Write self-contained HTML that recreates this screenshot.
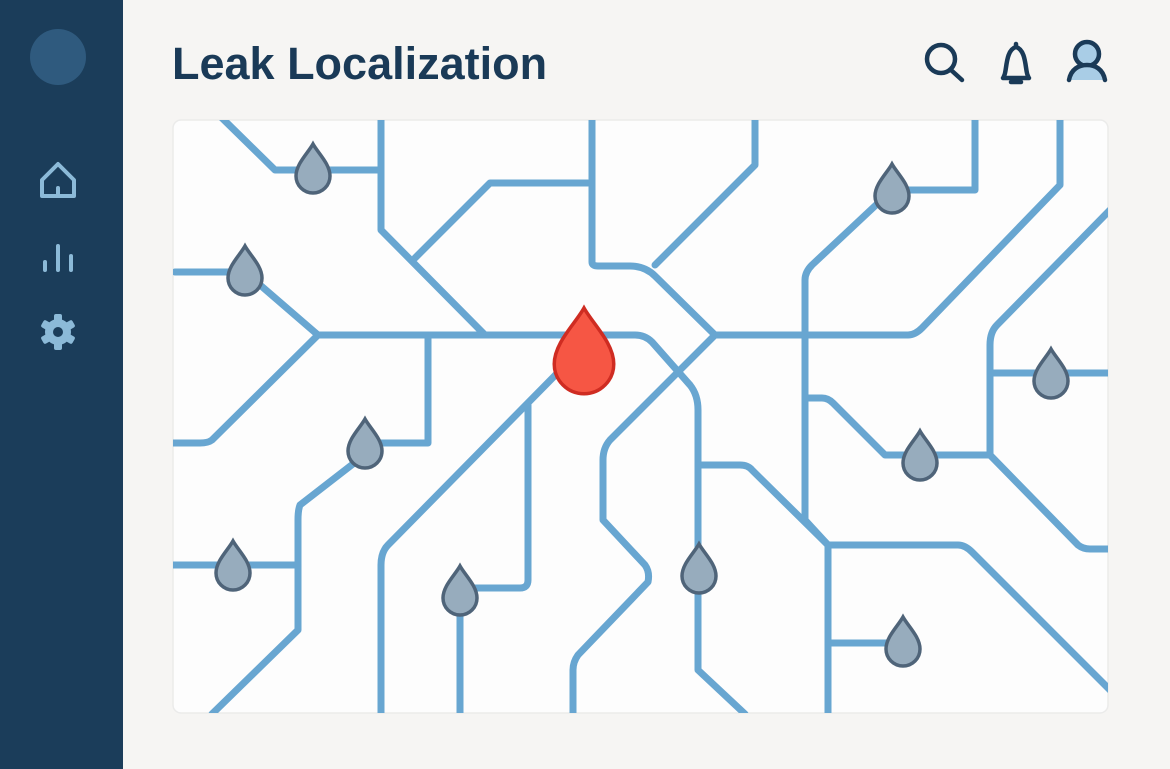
<!DOCTYPE html>
<html><head><meta charset="utf-8"><style>
html,body{margin:0;padding:0;width:1170px;height:769px;overflow:hidden;background:#f6f5f3;font-family:"Liberation Sans",sans-serif}
</style></head><body>
<svg width="1170" height="769" viewBox="0 0 1170 769" xmlns="http://www.w3.org/2000/svg" style="position:absolute;left:0;top:0">
<defs>
<path id="dr" d="M0,-24 C5,-15 17,-4 17,8 A17,17 0 0 1 -17,8 C-17,-4 -5,-15 0,-24 Z"/>
</defs>
<rect x="0" y="0" width="123" height="769" fill="#1b3d5a"/>
<circle cx="58" cy="57" r="28" fill="#2f5a7e"/>
<g fill="none" stroke="#8cbad8" stroke-width="4" stroke-linecap="round" stroke-linejoin="round">
<path d="M42,196 V180 L58,164 L74,180 V196 Z M58,196 V188"/>
<path d="M45,270 V262 M58,270 V246 M71,270 V256"/>
</g>
<g fill="#8cbad8">
<circle cx="58" cy="332" r="13"/>
<g transform="translate(58,332)">
<rect x="-4" y="-18" width="8" height="36" rx="2"/>
<rect x="-4" y="-18" width="8" height="36" rx="2" transform="rotate(60)"/>
<rect x="-4" y="-18" width="8" height="36" rx="2" transform="rotate(120)"/>
</g>
<circle cx="58" cy="332" r="5" fill="#1b3d5a"/>
</g>
<text x="172" y="79" font-size="45" font-weight="bold" fill="#1a3a57">Leak Localization</text>
<g fill="none" stroke="#1a3a57" stroke-width="4.5" stroke-linecap="round">
<circle cx="941" cy="59" r="14"/><path d="M951,70 L962,80"/>
<path d="M1003,78 H1029 M1004,76 C1007,72 1005,50 1016,47 C1027,50 1025,72 1028,76 M1016,44 V47"/>
<path d="M1011,82 H1021"/>
</g>
<circle cx="1087" cy="54" r="12" fill="#a9cde6" stroke="#1a3a57" stroke-width="4.5"/>
<path d="M1069,80 C1071,69 1079,65 1087,65 C1095,65 1103,69 1105,80 Z" fill="#a9cde6"/>
<path d="M1069,80 C1071,69 1079,65 1087,65 C1095,65 1103,69 1105,80" fill="none" stroke="#1a3a57" stroke-width="4.5" stroke-linecap="round"/>
<rect x="173" y="120" width="935" height="593" rx="8" fill="#fdfdfd" stroke="#ebebea" stroke-width="1.5"/>
<clipPath id="c"><rect x="173" y="120" width="935" height="593" rx="8"/></clipPath>
<g clip-path="url(#c)" fill="none" stroke="#68a6d1" stroke-width="7" stroke-linejoin="round" stroke-linecap="round">
<path d="M222,118 L275,170 H378"/>
<path d="M381,118 V230 L485,335"/>
<path d="M415,258 L490,183 H588"/>
<path d="M175,272 H245 L318,335 H635 Q645,335 652,342 L690,385 Q698,395 698,410 V670 L745,714"/>
<path d="M318,335 L212,440 Q208,443 200,443 H172"/>
<path d="M428,335 V443 H380 L300,505 Q298,510 298,520 V630 L212,714"/>
<path d="M172,565 H298"/>
<path d="M585,345 L388,545 Q381,552 381,565 V714"/>
<path d="M528,405 V580 Q528,588 520,588 H465 Q460,590 460,600 V714"/>
<path d="M698,465 H740 Q748,465 752,470 L828,545 V714"/>
<path d="M592,118 V262 Q592,266 598,266 H630 Q645,266 655,276 L715,335"/>
<path d="M755,118 V165 L655,265"/>
<path d="M715,335 L610,440 Q603,448 603,460 V520 L645,565 Q650,572 648,582 L578,655 Q573,662 573,670 V714"/>
<path d="M715,335 H908 Q915,335 922,328 L1060,185 V118"/>
<path d="M892,190 L812,265 Q805,272 805,280 V520 L828,545"/>
<path d="M892,190 H975 V118"/>
<path d="M805,398 H822 Q828,398 833,403 L885,455 H990"/>
<path d="M1110,210 L997,325 Q990,332 990,345 V455 L1078,545 Q1083,549 1090,549 H1110"/>
<path d="M990,373 H1110"/>
<path d="M828,545 H958 Q965,545 972,552 L1110,690"/>
<path d="M828,643 H903"/>
</g>
<g fill="#97acbd" stroke="#4f6479" stroke-width="3.5">
<use href="#dr" x="313" y="168"/>
<use href="#dr" x="245" y="270"/>
<use href="#dr" x="892" y="188"/>
<use href="#dr" x="365" y="443"/>
<use href="#dr" x="233" y="565"/>
<use href="#dr" x="460" y="590"/>
<use href="#dr" x="699" y="568"/>
<use href="#dr" x="920" y="455"/>
<use href="#dr" x="1051" y="373"/>
<use href="#dr" x="903" y="641"/>
</g>
<path d="M0,-24 C5,-15 17,-4 17,8 A17,17 0 0 1 -17,8 C-17,-4 -5,-15 0,-24 Z" transform="translate(584,350) scale(1.75)" fill="#f65644" stroke="#cf2c22" stroke-width="2"/>
</svg>
</body></html>
